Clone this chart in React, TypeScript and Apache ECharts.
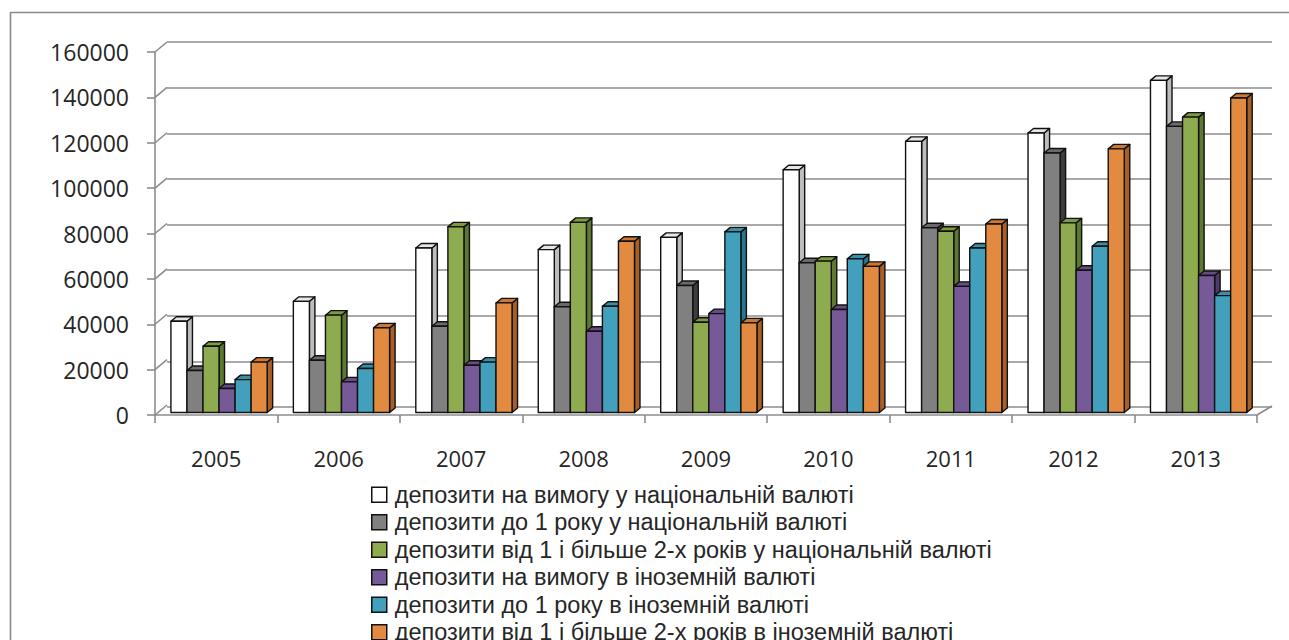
import React, { useEffect, useRef } from "react";
import * as echarts from "echarts";

const years = ["2005", "2006", "2007", "2008", "2009", "2010", "2011", "2012", "2013"];
const seriesNames = [
  "депозити на вимогу у національній валюті",
  "депозити до 1 року у національній валюті",
  "депозити від 1 і більше 2-х років у національній валюті",
  "депозити на вимогу в іноземній валюті",
  "депозити до 1 року в іноземній валюті",
  "депозити від 1 і більше 2-х років в іноземній валюті",
];
const demandNational = [40200, 49000, 72500, 71800, 77200, 107000, 119500, 123200, 146400];
const upTo1National = [18500, 23000, 38000, 46600, 56000, 66000, 81400, 114400, 126100];
const over1National = [29200, 42900, 81800, 83800, 39800, 66700, 79900, 83600, 130200];
const demandForeign = [10600, 13500, 20800, 35800, 43600, 45400, 55600, 62700, 60400];
const upTo1Foreign = [14500, 19400, 22200, 46800, 79600, 67700, 72500, 73300, 51500];
const over1Foreign = [22200, 37300, 48300, 75500, 39500, 64400, 83100, 116200, 138600];
const yTicks = [0, 20000, 40000, 60000, 80000, 100000, 120000, 140000, 160000];

const seriesValues = [demandNational, upTo1National, over1National, demandForeign, upTo1Foreign, over1Foreign];
const frontColors = ["#ffffff", "#808080", "#8eab4f", "#765a98", "#42a0bd", "#e28a3f"];
const topColors = ["#e6e6e6", "#6a6a6a", "#7c9a40", "#654c85", "#3890aa", "#cc7833"];
const sideColors = ["#bdbdbd", "#3e3e3e", "#5d7830", "#4e3a6a", "#2a7590", "#a85f25"];

const FONT = "'Open Sans', 'Noto Sans', sans-serif";
const LEGEND_FONT = "'Liberation Sans', 'DejaVu Sans', sans-serif";

export default function App() {
  const ref = useRef<HTMLDivElement>(null);
  useEffect(() => {
    if (!ref.current) return;
    const chart = echarts.init(ref.current, undefined, { renderer: "svg" });

    const barSeries = seriesValues.map((vals, k) => ({
      type: "custom",
      name: seriesNames[k],
      xAxisIndex: 0,
      yAxisIndex: 0,
      z: 3,
      itemStyle: { color: frontColors[k] },
      encode: { x: 0, y: 1 },
      data: vals.map((v, i) => [i, v]),
      renderItem: (params: any, api: any) => {
        const idx = api.value(0);
        const v = api.value(1);
        const c = api.coord([idx, v]);
        const b = api.coord([idx, 0]);
        const band = api.size([1, 0])[0];
        const w = band * 0.131;
        const left = c[0] - band / 2 + band * 0.13 + k * w;
        const top = c[1] - 2.5;
        const base = b[1] - 2.5;
        const dx = 5.5;
        const dy = -4.5;
        const stroke = { stroke: "#111", lineWidth: 1.4, lineJoin: "round" };
        return {
          type: "group",
          children: [
            {
              type: "polygon",
              shape: { points: [[left + w, top], [left + w + dx, top + dy], [left + w + dx, base + dy], [left + w, base]] },
              style: { fill: sideColors[k], ...stroke },
            },
            {
              type: "polygon",
              shape: { points: [[left, top], [left + dx, top + dy], [left + w + dx, top + dy], [left + w, top]] },
              style: { fill: topColors[k], ...stroke },
            },
            {
              type: "rect",
              shape: { x: left, y: top, width: w, height: base - top },
              style: { fill: frontColors[k], ...stroke },
            },
          ],
        };
      },
    }));

    const wallSeries = {
      type: "custom",
      name: "wall",
      xAxisIndex: 0,
      yAxisIndex: 0,
      z: 1,
      silent: true,
      encode: { x: 0, y: 1 },
      data: [...yTicks.map((v) => [0, v, 0]), [years.length - 1, 0, 1]],
      renderItem: (params: any, api: any) => {
        const idx = api.value(0);
        const v = api.value(1);
        const right = api.value(2);
        const c = api.coord([idx, v]);
        const band = api.size([1, 0])[0];
        const x0 = right ? c[0] + band / 2 : c[0] - band / 2;
        return {
          type: "line",
          shape: { x1: x0, y1: c[1], x2: x0 + (right ? 15 : 12), y2: c[1] - (right ? 9 : 10) },
          style: { stroke: "#8c8c8c", lineWidth: 1.6 },
        };
      },
    };

    const option: any = {
      animation: false,
      backgroundColor: "#ffffff",
      graphic: [
        {
          type: "rect",
          left: 8,
          top: 10,
          shape: { width: 1400, height: 700 },
          style: { fill: "none", stroke: "#8a8a8a", lineWidth: 1.6 },
          silent: true,
        },
      ],
      grid: [
        { left: 155, right: 32, top: 52, bottom: 225 },
        { left: 167, right: 17, top: 42, bottom: 233 },
      ],
      xAxis: [
        {
          type: "category",
          gridIndex: 0,
          data: years,
          boundaryGap: true,
          axisLine: { show: true, lineStyle: { color: "#8c8c8c", width: 1.6 } },
          axisTick: { show: true, length: 8, interval: 0, lineStyle: { color: "#8c8c8c", width: 1.6 } },
          axisLabel: { margin: 32, fontSize: 22, color: "#262626", fontFamily: FONT },
          splitLine: { show: false },
        },
        { type: "category", gridIndex: 1, data: years, show: false },
      ],
      yAxis: [
        {
          type: "value",
          gridIndex: 0,
          min: 0,
          max: 160000,
          interval: 20000,
          axisLine: { show: true, lineStyle: { color: "#8c8c8c", width: 1.6 } },
          axisTick: { show: true, length: 8, lineStyle: { color: "#8c8c8c", width: 1.6 } },
          axisLabel: {
            margin: 26,
            fontSize: 23,
            color: "#262626",
            fontFamily: FONT,
            formatter: (v: number) => String(v),
          },
          splitLine: { show: false },
        },
        {
          type: "value",
          gridIndex: 1,
          min: 0,
          max: 160000,
          interval: 20000,
          axisLine: { show: false },
          axisTick: { show: false },
          axisLabel: { show: false },
          splitLine: { show: true, lineStyle: { color: "#8c8c8c", width: 1.6 } },
        },
      ],
      legend: {
        orient: "vertical",
        left: 366,
        top: 476,
        height: 300,
        itemWidth: 15,
        itemHeight: 15,
        itemGap: 0,
        icon: "rect",
        selectedMode: false,
        textStyle: { fontSize: 23.5, lineHeight: 27.5, color: "#262626", fontFamily: LEGEND_FONT, padding: [0, 0, 0, 3] },
        data: seriesNames.map((n, k) => ({
          name: n,
          itemStyle: { color: frontColors[k], borderColor: "#111", borderWidth: 1.5 },
        })),
      },
      series: [wallSeries, ...barSeries],
    };
    chart.setOption(option);
    return () => chart.dispose();
  }, []);
  return <div ref={ref} style={{ position: "absolute", left: 0, top: 0, width: 1289, height: 640 }} />;
}
